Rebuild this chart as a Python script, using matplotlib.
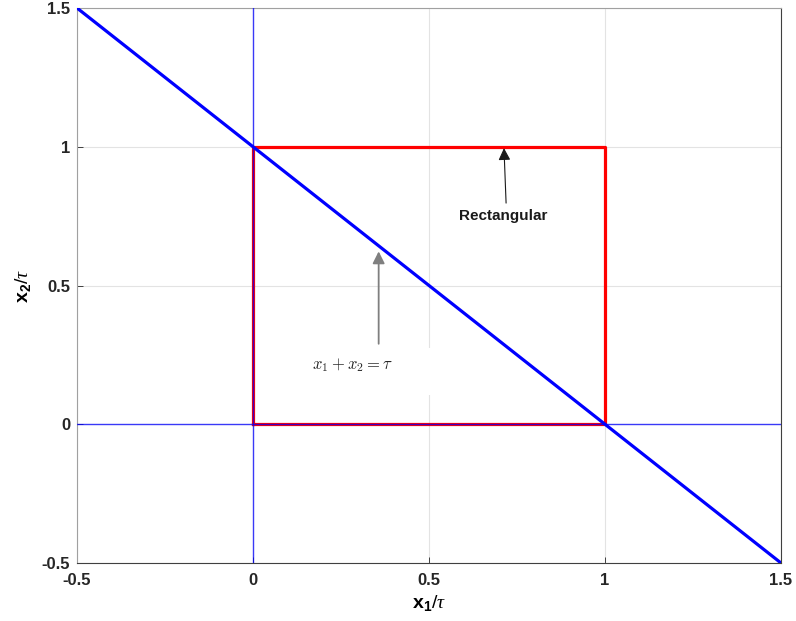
import matplotlib.pyplot as plt
from matplotlib.patches import Rectangle

# Data (in units of tau)
line_x = [-0.5, 1.5]
line_y = [1.5, -0.5]
rect_x = [0, 1, 1, 0, 0]
rect_y = [0, 0, 1, 1, 0]
ticks = [-0.5, 0, 0.5, 1, 1.5]
tick_labels = ['-0.5', '0', '0.5', '1', '1.5']

plt.rcParams['font.family'] = ['Liberation Sans', 'DejaVu Sans']
plt.rcParams['mathtext.fontset'] = 'custom'
plt.rcParams['mathtext.rm'] = 'Liberation Sans'
plt.rcParams['mathtext.bf'] = 'Liberation Sans:bold'
plt.rcParams['mathtext.it'] = 'Liberation Serif:italic'

fig = plt.figure(figsize=(7.96, 6.21), dpi=100)
ax = fig.add_axes([77 / 796, 1 - 563 / 621, 704 / 796, 555 / 621])

ax.grid(True, color='#e3e3e3', linewidth=0.8)
ax.set_axisbelow(True)

# white background of the equation label (hides the grid there)
ax.add_patch(Rectangle((0.15, 0.105), 0.37, 0.17, fc='white', ec='none', zorder=2))

ax.plot(rect_x, rect_y, color='#ff0000', linewidth=2.3, zorder=3)
ax.axvline(0, color='#0000ff', linewidth=1.0, alpha=0.75, zorder=4)
ax.axhline(0, color='#0000ff', linewidth=1.0, alpha=0.75, zorder=4)
ax.plot(line_x, line_y, color='#0000ff', linewidth=2.3, zorder=5)

ax.set_xlim(-0.5, 1.5)
ax.set_ylim(-0.5, 1.5)
ax.set_xticks(ticks)
ax.set_xticklabels(tick_labels)
ax.set_yticks(ticks)
ax.set_yticklabels(tick_labels)
ax.tick_params(direction='in', length=4, width=0.6, labelsize=12, colors='#262626')
ax.tick_params(axis='x', pad=7)
ax.tick_params(axis='y', pad=5)
for lbl in ax.get_xticklabels() + ax.get_yticklabels():
    lbl.set_fontweight('bold')

for side in ['top', 'left']:
    ax.spines[side].set_color('#a0a0a0')
for side in ['bottom', 'right']:
    ax.spines[side].set_color('#404040')
for s in ax.spines.values():
    s.set_linewidth(0.8)

ax.set_xlabel(r'$\mathbf{x_1}\mathrm{/}\tau$', fontsize=14, labelpad=4)
ax.set_ylabel(r'$\mathbf{x_2}\mathrm{/}\tau$', fontsize=14, labelpad=6)

# Annotations
ax.annotate(r'$x_1 + x_2 = \tau$', xy=(0.357, 0.623), xytext=(0.284, 0.213),
            ha='center', va='center', fontsize=12, color='#262626',
            math_fontfamily='cm', zorder=6)
ax.annotate('', xy=(0.357, 0.623), xytext=(0.357, 0.29),
            arrowprops=dict(arrowstyle='-|>', color='#7f7f7f', lw=1.3,
                            mutation_scale=18, shrinkA=0, shrinkB=0),
            zorder=6)
ax.annotate('Rectangular', xy=(0.713, 0.995), xytext=(0.71, 0.752),
            ha='center', va='center', fontsize=11, fontweight='bold',
            color='#1a1a1a', zorder=6)
ax.annotate('', xy=(0.713, 0.995), xytext=(0.719, 0.797),
            arrowprops=dict(arrowstyle='-|>', color='#1a1a1a', lw=0.8,
                            mutation_scale=18, shrinkA=0, shrinkB=0),
            zorder=6)

fig.savefig('out.png', dpi=100, facecolor='white')
